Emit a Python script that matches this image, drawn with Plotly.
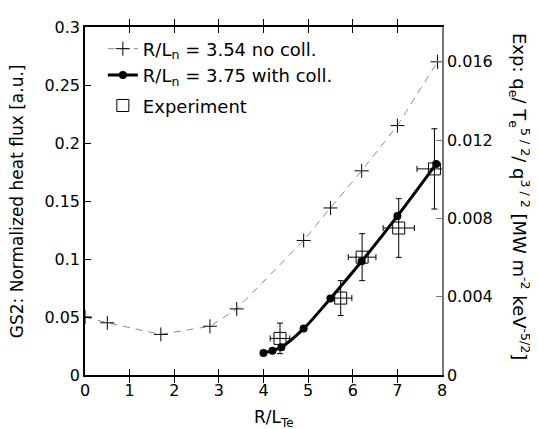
import plotly.graph_objects as go

# GS2, R/Ln = 3.54, no collisions (left axis)
x_nocoll = [0.0, 0.5, 1.7, 2.8, 3.4, 4.9, 5.5, 6.2, 7.0, 7.9]
y_nocoll = [0.050, 0.045, 0.035, 0.042, 0.057, 0.116, 0.144, 0.176, 0.215, 0.270]

# GS2, R/Ln = 3.75, with collisions (left axis)
x_coll = [4.0, 4.2, 4.4, 4.9, 5.5, 6.2, 7.0, 7.87]
y_coll = [0.019, 0.021, 0.024, 0.040, 0.066, 0.098, 0.137, 0.182]

# Experiment (right axis)
x_exp = [4.37, 5.73, 6.21, 7.03, 7.83]
y_exp = [0.00187, 0.00393, 0.00602, 0.00751, 0.01053]
x_err = [0.22, 0.25, 0.31, 0.35, 0.39]
y_err = [0.00078, 0.00089, 0.00120, 0.00150, 0.00205]

FONT = "DejaVu Sans"

fig = go.Figure()

fig.add_trace(go.Scatter(
    x=x_nocoll, y=y_nocoll, mode="lines+markers",
    name="R/L<sub>n</sub> = 3.54 no coll.",
    line=dict(color="#8a8a8a", width=1, dash="7px,6px"),
    marker=dict(symbol="cross-thin-open", size=10, color="black",
                line=dict(color="black", width=1)),
    legendgroup="gs2",
))

fig.add_trace(go.Scatter(
    x=x_coll, y=y_coll, mode="lines+markers",
    name="R/L<sub>n</sub> = 3.75 with coll.",
    line=dict(color="black", width=3, shape="spline"),
    marker=dict(symbol="circle", size=8, color="black"),
    legendgroup="gs2",
))

fig.add_trace(go.Scatter(
    x=x_exp, y=y_exp, mode="markers", yaxis="y2",
    name="Experiment",
    marker=dict(symbol="square-open", size=12, color="black",
                line=dict(color="black", width=1)),
    error_x=dict(type="data", array=x_err, color="black", thickness=1, width=3),
    error_y=dict(type="data", array=y_err, color="black", thickness=1, width=3),
    legendgroup="exp",
))

fig.update_layout(
    width=538, height=429,
    margin=dict(l=77, r=104, t=10, b=62),
    paper_bgcolor="white", plot_bgcolor="white",
    font=dict(family=FONT, size=16, color="black"),
    showlegend=True,
    legend=dict(x=0.05, y=0.99, xanchor="left", yanchor="top",
                bgcolor="rgba(0,0,0,0)", font=dict(size=18, family=FONT),
                traceorder="grouped", tracegroupgap=4),
    xaxis=dict(range=[0, 8], dtick=1, showgrid=False, zeroline=False,
               showline=True, linecolor="black", linewidth=1.5, mirror="allticks",
               ticks="inside", ticklen=6, tickcolor="black",
               tickfont=dict(size=16, family=FONT)),
    yaxis=dict(range=[0, 0.3], dtick=0.05, showgrid=False, zeroline=False,
               showline=True, linecolor="black", linewidth=1.5,
               ticks="inside", ticklen=6, tickcolor="black",
               tickfont=dict(size=16, family=FONT)),
    yaxis2=dict(range=[0, 0.01778], dtick=0.004, overlaying="y", side="right",
                showgrid=False, zeroline=False,
                showline=True, linecolor="#777777", linewidth=1.5,
                ticks="inside", ticklen=6, tickcolor="#777777",
                tickfont=dict(size=16, family=FONT)),
    annotations=[
        dict(text="GS2: Normalized heat flux [a.u.]", textangle=-90,
             xref="paper", yref="paper", x=-0.19, y=0.5,
             xanchor="center", yanchor="middle", showarrow=False,
             font=dict(size=17, family=FONT)),
        dict(text="Exp: q<sub>e</sub>/ T<sub>e</sub><sup>5 / 2</sup>/ q<sup>3 / 2</sup> [MW m<sup>-2</sup> keV<sup>-5/2</sup>]",
             textangle=90,
             xref="paper", yref="paper", x=1.218, y=0.512,
             xanchor="center", yanchor="middle", showarrow=False,
             font=dict(size=18, family=FONT)),
        dict(text="R/L<sub>Te</sub>",
             xref="paper", yref="paper", x=0.529, y=-0.125,
             xanchor="center", yanchor="middle", showarrow=False,
             font=dict(size=17, family=FONT)),
    ],
)

fig.write_html("out.html")
